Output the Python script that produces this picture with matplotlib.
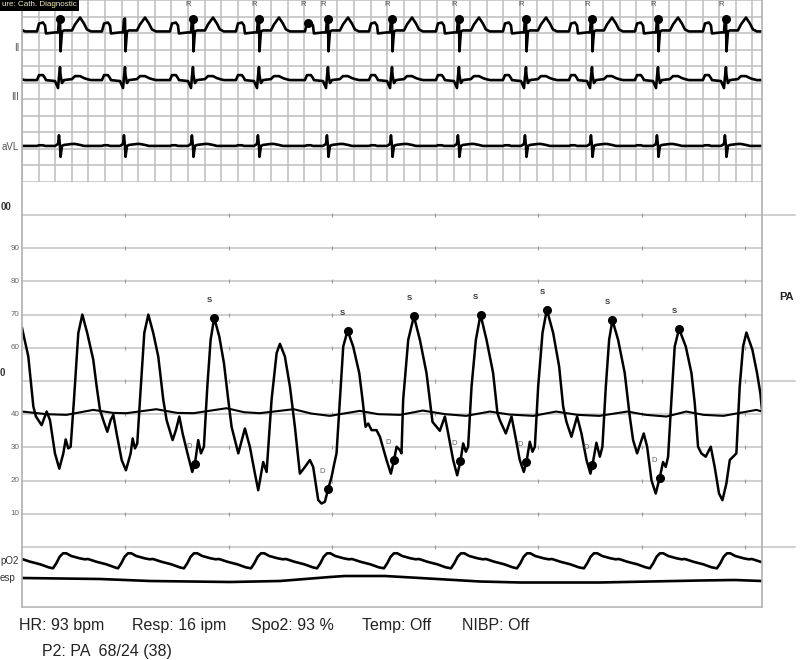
import matplotlib
matplotlib.use('Agg')
import matplotlib.pyplot as plt
import matplotlib.transforms as mtransforms
from matplotlib.lines import Line2D
import numpy as np

plt.rcParams['font.family'] = ['Liberation Sans', 'DejaVu Sans']

W, H = 800, 660
sweep_end = 7.164          # seconds shown across the strip
tick_seconds = [1, 2, 3, 4, 5, 6, 7]

# ECG: R-wave times (s) and one beat shape per lead (mV from baseline)
r_times = [-0.271, 0.368, 0.997, 1.655, 2.294, 2.962, 3.582, 4.230, 4.879, 5.518, 6.157, 6.815, 7.45]
r_detected = [0.368, 1.655, 2.294, 2.962, 3.582, 4.230, 4.879, 5.518, 6.157, 6.815]
r_labelled = [1.655, 2.294, 2.769, 2.962, 3.582, 4.230, 4.879, 5.518, 6.157, 6.815]
false_detect = [2.769]
beat_t = [-0.30, -0.223, -0.203, -0.165, -0.145, -0.136, -0.048, -0.019, -0.010, 0.0,
          0.005, 0.019, 0.039, 0.116, 0.145, 0.194, 0.232, 0.261, 0.30]
lead_ii = [0.03, 0.03, 0.27, 0.30, 0.21, -0.03, 0.0, 0.0, 0.39, 0.42,
           -0.57, 0.03, 0.06, 0.06, 0.24, 0.45, 0.27, 0.09, 0.03]
lead_iii = [0.0, 0.0, 0.15, 0.15, 0.06, 0.0, -0.03, -0.24, 0.09, 0.39,
            0.15, -0.09, 0.0, 0.03, 0.12, 0.12, 0.06, 0.03, 0.0]
lead_avl = [0.0, 0.0, 0.02, 0.02, 0.0, 0.0, 0.0, 0.06, 0.32, 0.0,
            -0.33, 0.0, 0.03, 0.06, 0.06, 0.03, 0.0, 0.0, 0.0]

# PA pressure trace (mmHg)
pa_t = [0.000, 0.061, 0.110, 0.135, 0.190, 0.239, 0.271, 0.319, 0.361, 0.400,
        0.423, 0.448, 0.471, 0.503, 0.545, 0.584, 0.632, 0.690, 0.723, 0.755,
        0.787, 0.826, 0.858, 0.884, 0.916, 0.965, 1.006, 1.052, 1.071, 1.094,
        1.116, 1.142, 1.184, 1.223, 1.271, 1.319, 1.368, 1.400, 1.458, 1.490,
        1.523, 1.555, 1.610, 1.648, 1.674, 1.706, 1.732, 1.761, 1.794, 1.826,
        1.861, 1.910, 1.955, 1.997, 2.029, 2.094, 2.158, 2.206, 2.255, 2.287,
        2.335, 2.368, 2.416, 2.465, 2.497, 2.545, 2.594, 2.642, 2.690, 2.739,
        2.787, 2.819, 2.868, 2.900, 2.932, 2.965, 2.997, 3.023, 3.045, 3.077,
        3.110, 3.152, 3.206, 3.265, 3.297, 3.326, 3.352, 3.384, 3.432, 3.465,
        3.529, 3.571, 3.603, 3.626, 3.658, 3.674, 3.690, 3.739, 3.794, 3.852,
        3.916, 3.948, 3.974, 4.013, 4.045, 4.094, 4.126, 4.174, 4.213, 4.245,
        4.271, 4.297, 4.319, 4.352, 4.394, 4.439, 4.497, 4.561, 4.603, 4.626,
        4.684, 4.739, 4.771, 4.819, 4.858, 4.884, 4.916, 4.942, 4.965, 4.997,
        5.039, 5.081, 5.142, 5.200, 5.239, 5.271, 5.319, 5.374, 5.416, 5.465,
        5.503, 5.523, 5.561, 5.594, 5.619, 5.652, 5.684, 5.716, 5.771, 5.835,
        5.884, 5.916, 5.955, 6.019, 6.052, 6.094, 6.135, 6.174, 6.206, 6.232,
        6.255, 6.287, 6.319, 6.361, 6.426, 6.481, 6.513, 6.545, 6.577, 6.619,
        6.668, 6.706, 6.748, 6.781, 6.819, 6.852, 6.884, 6.916, 6.948, 6.981,
        7.013, 7.071, 7.116, 7.148, 7.164]
pa_v = [66.0, 57.4, 42.3, 39.3, 36.7, 40.8, 38.2, 28.2, 23.6, 28.2,
        32.4, 29.7, 30.2, 44.3, 64.4, 70.0, 64.4, 56.4, 48.3, 41.3,
        38.2, 34.7, 38.2, 39.8, 34.2, 26.2, 23.1, 28.2, 32.7, 29.7,
        31.2, 44.3, 64.5, 70.0, 64.4, 57.4, 44.3, 38.2, 32.2, 35.2,
        39.3, 34.2, 27.2, 22.6, 25.1, 32.2, 28.2, 30.2, 48.3, 62.4,
        69.0, 63.4, 55.4, 44.3, 36.2, 28.2, 35.7, 30.2, 22.1, 17.1,
        25.6, 22.6, 44.3, 58.4, 61.2, 57.4, 48.3, 36.2, 22.1, 24.1,
        26.2, 24.1, 14.1, 13.1, 13.6, 17.6, 21.1, 25.1, 28.2, 44.3,
        60.4, 65.2, 60.4, 52.4, 44.3, 36.2, 37.2, 35.2, 35.2, 33.2,
        26.2, 22.1, 26.3, 30.2, 29.2, 28.2, 44.3, 62.4, 69.5, 62.4,
        52.4, 44.3, 37.7, 36.2, 35.0, 39.3, 34.2, 26.2, 21.6, 25.9,
        31.2, 28.7, 30.2, 48.3, 62.4, 70.0, 62.4, 52.4, 40.3, 38.2,
        34.2, 39.3, 34.2, 26.2, 22.6, 25.7, 31.7, 28.7, 30.2, 48.3,
        64.5, 71.5, 64.5, 54.4, 42.3, 37.7, 33.2, 39.3, 34.2, 26.2,
        22.1, 24.8, 31.4, 27.2, 30.2, 48.3, 62.4, 68.3, 62.4, 52.4,
        39.3, 32.2, 28.2, 34.2, 30.2, 20.1, 16.1, 20.9, 25.6, 24.1,
        27.2, 44.3, 60.4, 65.7, 60.4, 52.4, 43.3, 30.2, 28.2, 27.2,
        30.2, 24.1, 16.1, 14.1, 19.1, 26.2, 27.2, 28.2, 48.3, 60.4,
        64.6, 59.4, 52.4, 46.3, 41.3]

# second (mean) pressure line
mean_t = [0.0, 0.24, 0.43, 0.69, 0.88, 1.01, 1.30, 1.50, 1.66, 1.98, 2.15, 2.30,
          2.63, 2.80, 2.98, 3.27, 3.45, 3.66, 3.88, 4.10, 4.30, 4.53, 4.72, 4.95,
          5.17, 5.38, 5.59, 5.86, 6.04, 6.24, 6.43, 6.60, 6.79, 7.11, 7.164]
mean_v = [40.8, 40.0, 39.8, 41.3, 40.4, 40.3, 41.5, 40.4, 40.3, 41.8, 40.6, 40.3,
          41.5, 40.2, 39.5, 41.0, 40.0, 39.8, 41.1, 40.0, 39.5, 40.8, 39.9, 39.5,
          40.8, 39.8, 39.5, 40.8, 39.8, 39.3, 40.8, 39.8, 39.5, 41.3, 40.8]

# systolic / diastolic markers
s_t = [1.861, 3.152, 3.794, 4.439, 5.081, 5.716, 6.361]
s_v = [69.0, 65.2, 69.5, 70.0, 71.5, 68.3, 65.7]
d_t = [1.674, 2.965, 3.603, 4.245, 4.884, 5.523, 6.174]
d_v = [25.1, 17.6, 26.3, 25.9, 25.7, 24.8, 20.9]

# SpO2 pleth: trough times and one pulse shape; resp trace
pleth_troughs = [-0.34, 0.300, 0.929, 1.568, 2.217, 2.856, 3.504, 4.153, 4.792, 5.440, 6.079, 6.728]
pleth_shape_t = [0, 0.032, 0.065, 0.097, 0.129, 0.177, 0.258, 0.307, 0.339, 0.419, 0.516, 0.597]
pleth_shape_v = [38.7, 43.7, 50.3, 53.7, 53.7, 51.0, 48.7, 47.7, 48.0, 45.3, 42.7, 39.7]
resp_t = [0, 0.755, 1.239, 2.014, 2.498, 2.982, 3.127, 3.514, 3.853, 4.434, 4.821, 5.595,
          6.079, 6.563, 6.902, 7.164]
resp_v = [29, 28, 26, 25, 26, 30, 31, 31, 29, 25.5, 24.5, 24.5, 25.5, 26.5, 27, 26]

pressure_ticks = [10, 20, 30, 40, 60, 70, 80, 90]
status_items = ['HR: 93 bpm', 'Resp: 16 ipm', 'Spo2: 93 %', 'Temp: Off', 'NIBP: Off']
pressure_line = 'P2: PA  68/24 (38)'


def repeat(times, shape_t, shape_v):
    t = np.concatenate([np.asarray(shape_t) + r for r in times])
    v = np.tile(shape_v, len(times))
    return t, v


def box(x0, y0, x1, y1):
    # pixel box (top-left origin) -> figure fraction rect
    return [x0 / W, 1 - y1 / H, (x1 - x0) / W, (y1 - y0) / H]


grid_c = '#bdbdbd'
frame_c = '#b0b0b0'

fig = plt.figure(figsize=(W / 100, H / 100), dpi=100)

# ---------- ECG panel ----------
ax_e = fig.add_axes(box(22, 0, 762, 182))
ax_e.set_xlim(0, sweep_end)
ax_e.set_ylim(0, 5.5)
ax_e.axis('off')
for gx in np.arange(0, sweep_end, 0.1607):
    ax_e.axvline(gx, color=grid_c, lw=1.1, zorder=0)
for gy in np.arange(0, 5.51, 0.5):
    ax_e.axhline(gy, color=grid_c, lw=1.1, zorder=0)

leads = [(lead_ii, 4.52, 'II', 48), (lead_iii, 3.08, 'III', 97), (lead_avl, 1.09, 'aVL', 147)]
traces = {}
for shape, base, name, ly in leads:
    t, v = repeat(r_times, beat_t, shape)
    ax_e.plot(t, v + base, color='black', lw=1.9, solid_joinstyle='round')
    traces[name] = (t, v + base)
    fig.text(19 / W, 1 - ly / H, name, ha='right', va='center', fontsize=7, color='#555555')

t2, v2 = traces['II']
dot_t = sorted(r_detected + false_detect)
dot_v = np.interp(dot_t, t2, v2)
ax_e.plot(dot_t, dot_v, 'o', color='black', ms=5.5)
for rt in r_labelled:
    ax_e.annotate('R', xy=(rt, 0.978), xycoords=('data', 'axes fraction'),
                  xytext=(-3.2, 0), textcoords='offset points',
                  ha='center', va='center', fontsize=5.5, color='#444444')

fig.text(2 / W, 1 - 5 / H, 'ure: Cath. Diagnostic', ha='left', va='center',
         fontsize=5.8, color='#f3ecc0', zorder=10,
         bbox=dict(boxstyle='square,pad=0.25', fc='black', ec='none'))

# ---------- pressure panel ----------
ax_p = fig.add_axes(box(22, 215, 762, 547))
ax_p.set_xlim(0, sweep_end)
ax_p.set_ylim(0, 100)
ax_p.axis('off')
blend = mtransforms.blended_transform_factory(ax_p.transAxes, ax_p.transData)
for lvl in range(0, 101, 10):
    x_end = 1.045 if lvl in (0, 50, 100) else 1.0
    ax_p.plot([0, x_end], [lvl, lvl], transform=blend, color='#c4c4c4', lw=1.1,
              clip_on=False, zorder=0)
    ax_p.plot(tick_seconds, [lvl] * len(tick_seconds), ls='none', marker='|', ms=3,
              mec='#9a9a9a', mew=0.8, clip_on=False, zorder=0)
for lvl in pressure_ticks:
    ax_p.text(-0.003, lvl, str(lvl), transform=blend, ha='right', va='center',
              fontsize=5.8, color='#666666')
# scale labels at the far left, only partly visible on the monitor
fig.text(1 / W, 1 - 207 / H, '00', ha='left', va='center', fontsize=7,
         fontweight='bold', color='#333333')
fig.text(0 / W, 1 - 373 / H, '0', ha='left', va='center', fontsize=7,
         fontweight='bold', color='#333333')

ax_p.plot(mean_t, mean_v, color='black', lw=1.5, zorder=2)
ax_p.plot(pa_t, pa_v, color='black', lw=1.8, solid_joinstyle='round', zorder=3)
ax_p.plot(s_t, s_v, 'o', color='black', ms=5.5, zorder=4)
ax_p.plot(d_t, d_v, 'o', color='black', ms=5.5, zorder=4)
for x, y in zip(s_t, s_v):
    ax_p.annotate('S', (x, y), xytext=(-3.6, 12.5), textcoords='offset points',
                  ha='center', va='center', fontsize=5.5, color='#333333', fontweight='bold')
for x, y in zip(d_t, d_v):
    ax_p.annotate('D', (x, y), xytext=(-4.3, 12.5), textcoords='offset points',
                  ha='center', va='center', fontsize=5.5, color='#666666')
fig.text(786 / W, 1 - 297 / H, 'PA', ha='center', va='center', fontsize=8,
         fontweight='bold', color='#222222')

# ---------- SpO2 / resp panel ----------
ax_b = fig.add_axes(box(22, 547, 762, 607))
ax_b.set_xlim(0, sweep_end)
ax_b.set_ylim(0, 60)
ax_b.axis('off')
ax_b.axhline(0, color=frame_c, lw=1.1, clip_on=False)
pt, pv = repeat(pleth_troughs, pleth_shape_t, pleth_shape_v)
ax_b.plot(pt, pv, color='black', lw=1.9)
ax_b.plot(resp_t, resp_v, color='black', lw=1.9)
fig.text(0 / W, 1 - 561 / H, 'pO2', ha='left', va='center', fontsize=7, color='#333333')
fig.text(0 / W, 1 - 578 / H, 'esp', ha='left', va='center', fontsize=7, color='#333333')

# outer frame (left / right edges of the sweep)
for px in (22, 762):
    fig.add_artist(Line2D([px / W, px / W], [1, 1 - 607 / H], color=frame_c, lw=1.2))

# status lines
status_x = [19, 132, 251, 362, 462]
for sx, item in zip(status_x, status_items):
    fig.text(sx / W, 1 - 630 / H, item, ha='left', va='baseline', fontsize=11.5,
             color='#222222')
fig.text(42 / W, 1 - 656 / H, pressure_line, ha='left', va='baseline', fontsize=11.5,
         color='#222222')

fig.savefig('out.png', dpi=100)
